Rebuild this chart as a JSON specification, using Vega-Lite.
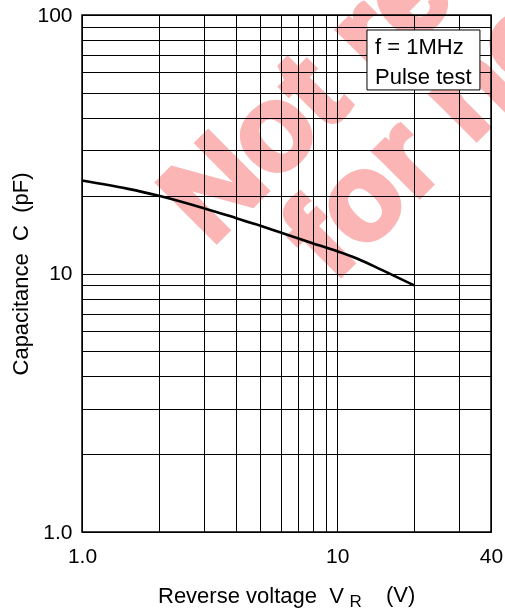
{
  "$schema": "https://vega.github.io/schema/vega-lite/v6.json",
  "width": 409,
  "height": 517,
  "autosize": {"type": "none"},
  "padding": {"left": 82, "top": 15, "right": 14, "bottom": 79},
  "background": "white",
  "config": {
    "font": "Liberation Sans",
    "view": {"stroke": "#000", "strokeWidth": 1.5},
    "axis": {
      "labelColor": "#000",
      "titleColor": "#000",
      "labelFontSize": 21,
      "titleFontSize": 22,
      "titleFontWeight": "normal",
      "grid": true,
      "gridColor": "#000",
      "gridOpacity": 1,
      "gridWidth": 1,
      "domain": false,
      "ticks": false,
      "tickSize": 0,
      "labelFlush": false,
      "labelOverlap": false
    }
  },
  "datasets": {
    "curve": [
      {"V": 1, "C": 22.9},
      {"V": 1.5, "C": 21.3},
      {"V": 2, "C": 20.0},
      {"V": 3, "C": 17.9},
      {"V": 4, "C": 16.4},
      {"V": 5, "C": 15.3},
      {"V": 6, "C": 14.4},
      {"V": 7, "C": 13.7},
      {"V": 8, "C": 13.1},
      {"V": 10, "C": 12.2},
      {"V": 12, "C": 11.4},
      {"V": 15, "C": 10.3},
      {"V": 20, "C": 9.0}
    ]
  },
  "layer": [
    {
      "data": {"name": "curve"},
      "mark": {"type": "line", "color": "#000", "strokeWidth": 2.6, "interpolate": "monotone"},
      "encoding": {
        "x": {
          "field": "V",
          "type": "quantitative",
          "scale": {"type": "log", "domain": [1, 40], "nice": false},
          "axis": {
            "values": [1, 2, 3, 4, 5, 6, 7, 8, 9, 10, 20, 30, 40],
            "labelExpr": "datum.value == 1 ? '1.0' : datum.value == 10 ? '10' : datum.value == 40 ? '40' : ''",
            "labelPadding": 13,
            "title": "Reverse voltage\u00a0\u00a0V",
            "titleAlign": "left",
            "titleX": 75.5,
            "titleBaseline": "alphabetic",
            "titleY": 70
          }
        },
        "y": {
          "field": "C",
          "type": "quantitative",
          "scale": {"type": "log", "domain": [1, 100], "nice": false},
          "axis": {
            "values": [1, 2, 3, 4, 5, 6, 7, 8, 9, 10, 20, 30, 40, 50, 60, 70, 80, 90, 100],
            "labelExpr": "datum.value == 1 ? '1.0' : datum.value == 10 ? '10' : datum.value == 100 ? '100' : ''",
            "labelPadding": 10,
            "title": "Capacitance\u00a0\u00a0C\u00a0\u00a0(pF)",
            "titleAngle": 270,
            "titleX": -55,
            "titleY": 258.5,
            "titleAlign": "center",
            "titleBaseline": "alphabetic"
          }
        }
      }
    },
    {
      "data": {"values": [{"t": "Not recommended"}]},
      "mark": {"type": "text", "font": "Liberation Sans", "fontWeight": "bold", "fontSize": 121, "angle": 315, "align": "left", "baseline": "alphabetic", "color": "#fbb5b5", "stroke": "#fbb5b5", "strokeWidth": 5, "blend": "multiply"},
      "encoding": {
        "x": {"datum": 3.2, "type": "quantitative"},
        "y": {"datum": 12.66, "type": "quantitative"},
        "text": {"field": "t"}
      }
    },
    {
      "data": {"values": [{"t": "for new design"}]},
      "mark": {"type": "text", "font": "Liberation Sans", "fontWeight": "bold", "fontSize": 121, "angle": 315, "align": "left", "baseline": "alphabetic", "color": "#fbb5b5", "stroke": "#fbb5b5", "strokeWidth": 5, "blend": "multiply"},
      "encoding": {
        "x": {"datum": 9.62, "type": "quantitative"},
        "y": {"datum": 9.19, "type": "quantitative"},
        "text": {"field": "t"}
      }
    },
    {
      "data": {"values": [{"box": "conditions"}]},
      "mark": {"type": "rect", "fill": "white", "stroke": "#000", "strokeWidth": 1},
      "encoding": {
        "x": {"datum": 13.07, "type": "quantitative"},
        "x2": {"datum": 36.2},
        "y": {"datum": 87.5, "type": "quantitative"},
        "y2": {"datum": 51.3}
      }
    },
    {
      "data": {"values": [{"t": "f = 1MHz"}]},
      "mark": {"type": "text", "fontSize": 22, "align": "left", "baseline": "alphabetic", "color": "#000"},
      "encoding": {
        "x": {"datum": 14.05, "type": "quantitative"},
        "y": {"datum": 70.6, "type": "quantitative"},
        "text": {"field": "t"}
      }
    },
    {
      "data": {"values": [{"t": "Pulse test"}]},
      "mark": {"type": "text", "fontSize": 22, "align": "left", "baseline": "alphabetic", "color": "#000"},
      "encoding": {
        "x": {"datum": 14.05, "type": "quantitative"},
        "y": {"datum": 54.1, "type": "quantitative"},
        "text": {"field": "t"}
      }
    },
    {
      "data": {"values": [{"t": "R"}]},
      "mark": {"type": "text", "fontSize": 17, "align": "center", "baseline": "alphabetic", "color": "#000"},
      "encoding": {
        "x": {"datum": 11.79, "type": "quantitative"},
        "y": {"datum": 0.513, "type": "quantitative"},
        "text": {"field": "t"}
      }
    },
    {
      "data": {"values": [{"t": "(V)"}]},
      "mark": {"type": "text", "fontSize": 22, "align": "left", "baseline": "alphabetic", "color": "#000"},
      "encoding": {
        "x": {"datum": 15.52, "type": "quantitative"},
        "y": {"datum": 0.5374, "type": "quantitative"},
        "text": {"field": "t"}
      }
    }
  ]
}
